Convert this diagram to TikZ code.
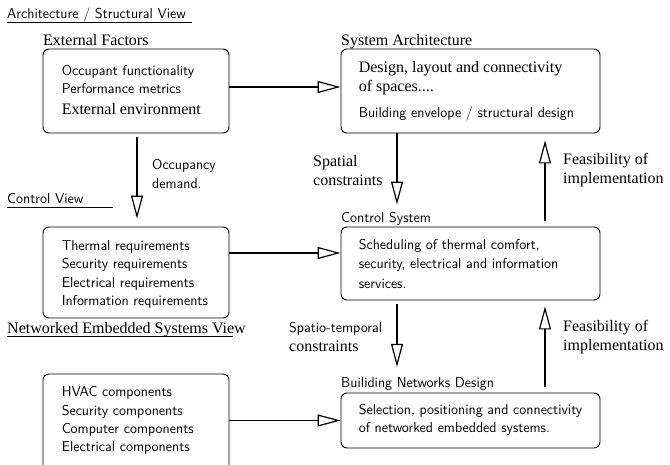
\documentclass[tikz,border=0pt]{standalone}
\usepackage{fontspec}
\newfontfamily\tmsfam{Liberation Serif}
\usetikzlibrary{arrows.meta}
\newcommand\sfs{\fontsize{14.3}{18.3}\selectfont\sffamily}
\newcommand\rms{\fontsize{16}{19}\selectfont\tmsfam}
\begin{document}
\begin{tikzpicture}[x=1pt,y=-1pt,
  box/.style={draw, line width=0.9pt, rounded corners=6pt, inner sep=0pt},
  txt/.style={anchor=west, align=left, inner sep=0pt, font=\sfs},
  ttl/.style={anchor=base west, inner sep=0pt},
  lbl/.style={anchor=west, align=left, inner sep=0pt},
  uline/.style={line width=1pt},
  arr/.style={line width=1.5pt, -{Triangle[open, length=23pt, width=12pt, line width=1.2pt]}}]
\useasboundingbox (0,0) rectangle (670,464);
\fill[white] (0,0) rectangle (670,464);
% boxes
\node[box, minimum width=186pt, minimum height=84pt] (b1) at (136,91) {};
\node[box, minimum width=259pt, minimum height=84pt] (b2) at (470.5,91) {};
\node[box, minimum width=186pt, minimum height=91pt] (b3) at (136,272.5) {};
\node[box, minimum width=259pt, minimum height=73pt] (b4) at (470.5,263.5) {};
\node[box, minimum width=186pt, minimum height=110pt] (b5) at (136,429) {};
\node[box, minimum width=259pt, minimum height=55pt] (b6) at (470.5,420.5) {};
% box texts
\node[txt] (t1) at ([xshift=19pt,yshift=1pt]b1.west) {Occupant functionality\\Performance metrics\\[3pt]{\rms External environment}};
\node[txt, font=\rms] (t2) at ([xshift=18pt]b2.west) {Design, layout and connectivity\\of spaces....\\[7pt]{\sfs Building envelope / structural design}};
\node[txt] (t3) at ([xshift=19pt,yshift=-2pt]b3.west) {Thermal requirements\\Security requirements\\Electrical requirements\\Information requirements};
\node[txt] (t4) at ([xshift=18pt]b4.west) {Scheduling of thermal comfort,\\[1.2pt]security, electrical and information\\[1.2pt]services.};
\node[txt] (t5) at ([xshift=19pt]b5.west |- b6.west) {HVAC components\\Security components\\Computer components\\Electrical components};
\node[txt] (t6) at ([xshift=18pt,yshift=1pt]b6.west) {Selection, positioning and connectivity\\of networked embedded systems.};
% titles
\node[ttl, font=\rms] (h1) at (43,45) {External Factors};
\node[ttl, font=\rms] (h2) at (341,45) {System Architecture};
\node[ttl, font=\sfs] (h4) at (341,222) {Control System};
\node[ttl, font=\sfs] (h6) at (341,387) {Builiding Networks Design};
% views
\node[ttl, font=\sfs] (v1) at (7,18) {Architecture / Structural View};
\node[ttl, font=\sfs] (v2) at (7,203) {Control View};
\node[ttl, font=\rms] (v3) at (7,333) {Networked Embedded Systems View};
\draw[uline] ([yshift=-4pt]v1.base west) -- ++(185,0);
\draw[uline] ([yshift=-4pt]v2.base west) -- ++(106,0);
\draw[uline] ([yshift=-3pt]v3.base west) -- ++(226,0);
% labels
\node[lbl, font=\sfs] (l1) at (152,174) {Occupancy\\demand.};
\node[lbl, font=\rms] (l2) at (313,170.5) {Spatial\\constraints};
\node[lbl, font=\rms] (l3) at (563,170.5) {Feasibility of\\implementation};
\node[lbl, font=\sfs] (l4) at (289,337) {Spatio-temporal\\{\rms constraints}};
\node[lbl, font=\rms] (l5) at (563,337) {Feasibility of\\implementation};
% helper coordinates
\coordinate (xa) at (137,0);
\coordinate (xb) at (397,0);
\coordinate (xc) at (545,0);
% arrows
\draw[arr] ([yshift=4pt]b1.east) -- ([yshift=4pt]b2.west);
\draw[arr] ([yshift=19.5pt]b3.east) -- ([yshift=10.5pt]b4.west);
\draw[arr] (b5.east |- b6.west) -- (b6.west);
\draw[arr, shorten <=4pt, shorten >=8pt] (b1.south -| xa) -- (b3.north -| xa);
\draw[arr, shorten >=7pt] (b2.south -| xb) -- (h4.north -| xb);
\draw[arr, shorten <=4pt, shorten >=10pt] (b4.south -| xb) -- (h6.north -| xb);
\draw[arr, shorten <=6pt, shorten >=7pt] (b4.north -| xc) -- (b2.south -| xc);
\draw[arr, shorten <=6pt, shorten >=6pt] (b6.north -| xc) -- (b4.south -| xc);
\end{tikzpicture}
\end{document}
